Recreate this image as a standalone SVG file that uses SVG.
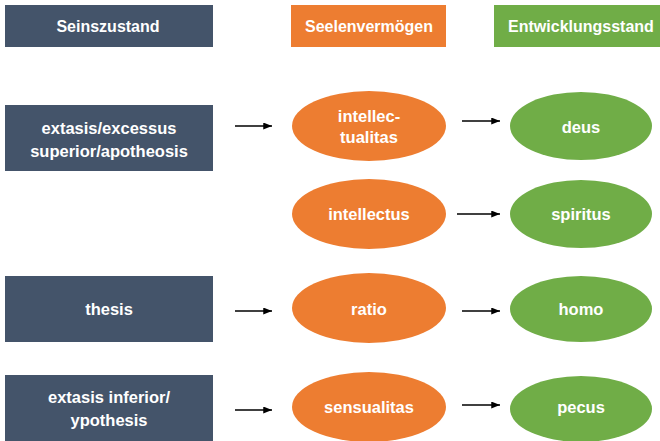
<svg xmlns="http://www.w3.org/2000/svg" width="660" height="441" viewBox="0 0 660 441">
<defs>
<style>
.slate{fill:#44546A}
.orange{fill:#ED7D31}
.green{fill:#70AD47}
text{font-family:"Liberation Sans",Arial,sans-serif;font-weight:bold;font-size:16.5px;fill:#fff;text-anchor:middle}
text.hd{font-size:16px}
.conn line{stroke:#000;stroke-width:1.5}
</style>
<marker id="ah" viewBox="0 0 10 8" refX="10" refY="4" markerWidth="9" markerHeight="7" markerUnits="userSpaceOnUse" orient="auto"><path d="M0,0 L10,4 L0,8 z" fill="#000"/></marker>
</defs>
<rect width="660" height="441" fill="#fff"/>
<g id="h1"><rect class="slate" x="5" y="5" width="208" height="42"/><text class="hd" x="108" y="32">Seinszustand</text></g>
<g id="h2"><rect class="orange" x="291" y="5" width="155" height="42"/><text class="hd" x="369" y="32">Seelenvermögen</text></g>
<g id="h3"><rect class="green" x="494" y="5" width="166" height="42"/><text class="hd" x="581" y="32">Entwicklungsstand</text></g>

<g id="s1"><rect class="slate" x="5" y="105" width="208" height="66"/><text x="109" y="134">extasis/excessus</text><text x="109" y="157">superior/apotheosis</text></g>
<g id="s2"><rect class="slate" x="5" y="276" width="208" height="66"/><text x="109" y="315">thesis</text></g>
<g id="s3"><rect class="slate" x="5" y="375" width="208" height="66"/><text x="109" y="403">extasis inferior/</text><text x="109" y="426">ypothesis</text></g>

<g id="o1"><ellipse class="orange" cx="369" cy="126" rx="77" ry="35"/><text x="369" y="122">intellec-</text><text x="369" y="143">tualitas</text></g>
<g id="o2"><ellipse class="orange" cx="369" cy="214" rx="77" ry="35"/><text x="369" y="220">intellectus</text></g>
<g id="o3"><ellipse class="orange" cx="369" cy="308" rx="77" ry="35"/><text x="369" y="315">ratio</text></g>
<g id="o4"><ellipse class="orange" cx="369" cy="407" rx="77" ry="35"/><text x="369" y="413">sensualitas</text></g>

<g id="g1"><ellipse class="green" cx="581" cy="126" rx="71" ry="34"/><text x="581" y="133">deus</text></g>
<g id="g2"><ellipse class="green" cx="581" cy="214" rx="71" ry="34"/><text x="581" y="220">spiritus</text></g>
<g id="g3"><ellipse class="green" cx="581" cy="309" rx="71" ry="33"/><text x="581" y="315">homo</text></g>
<g id="g4"><ellipse class="green" cx="581" cy="409" rx="71" ry="33"/><text x="581" y="413">pecus</text></g>

<g id="connectors" class="conn">
<line x1="235" y1="126" x2="272" y2="126" marker-end="url(#ah)"/>
<line x1="462" y1="121" x2="500" y2="121" marker-end="url(#ah)"/>
<line x1="457" y1="214" x2="500" y2="214" marker-end="url(#ah)"/>
<line x1="235" y1="311" x2="272" y2="311" marker-end="url(#ah)"/>
<line x1="462" y1="311" x2="500" y2="311" marker-end="url(#ah)"/>
<line x1="235" y1="410" x2="272" y2="410" marker-end="url(#ah)"/>
<line x1="462" y1="405" x2="500" y2="405" marker-end="url(#ah)"/>
</g>
</svg>
